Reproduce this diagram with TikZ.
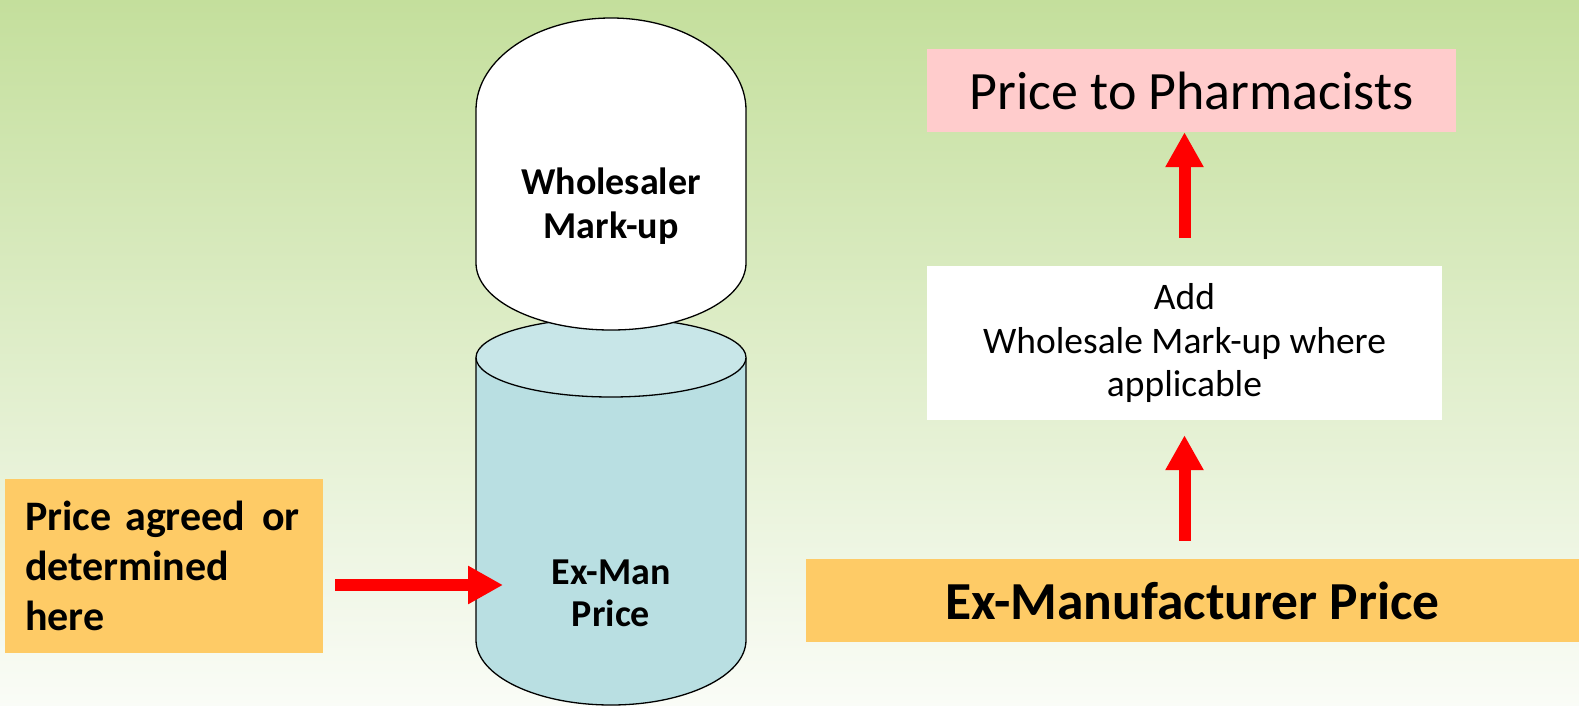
\documentclass[tikz,border=0pt]{standalone}
\usepackage{fontspec}
\setmainfont{Carlito}
\usetikzlibrary{arrows.meta,calc}
\definecolor{bgtop}{HTML}{C4DF9C}
\definecolor{bgbot}{HTML}{FAFCF7}
\definecolor{orng}{HTML}{FECB66}
\definecolor{pinkc}{HTML}{FFCCCC}
\definecolor{cylbody}{HTML}{B9DFE2}
\definecolor{cyltop}{HTML}{C8E6E8}
\tikzset{
 box/.style={draw=none, inner sep=0pt, align=center},
 redarrow/.style={draw=red, line width=12pt, -{Triangle[length=35pt,width=36pt]}},
 outl/.style={draw=black, line width=1.3pt},
}
\begin{document}
\begin{tikzpicture}[x=1pt,y=-1pt]
\useasboundingbox (0,0) rectangle (1579,706);
\shade[top color=bgtop, bottom color=bgbot] (0,0) rectangle (1579,706);

% cylinder (Ex-Man Price)
\fill[cylbody] (476,357.5) -- (476,640) arc[start angle=180,end angle=0,x radius=135,y radius=65] -- (746,357.5) -- cycle;
\draw[outl] (476,357.5) -- (476,640) arc[start angle=180,end angle=0,x radius=135,y radius=65] -- (746,357.5);
\draw[outl, fill=cyltop] (611,357.5) ellipse [x radius=135, y radius=39.5];

% wholesaler dome
\draw[outl, fill=white] (476,110) arc[start angle=180,end angle=360,x radius=135,y radius=92] -- (746,263) arc[start angle=0,end angle=180,x radius=135,y radius=67] -- cycle;

\node[box, font=\bfseries\fontsize{38}{44}\selectfont] (whl) at (611,206) {Wholesaler\\Mark-up};
\node[box, font=\bfseries\fontsize{38}{42}\selectfont] (exman) at (611,593) {Ex-Man\\Price};
\coordinate (cyltarget) at (503,585);

\node[box, fill=orng, minimum width=318pt, minimum height=174pt, text width=278pt, align=left, font=\bfseries\fontsize{42}{50}\selectfont] (lbox) at (164,566) {\mbox{Price agreed\hspace{17pt}or}\\determined\\here};
\draw[redarrow] ($(lbox.east)+(12,19)$) -- (cyltarget);

\node[box, fill=pinkc, minimum width=529pt, minimum height=83pt, font=\fontsize{54}{62}\selectfont] (pink) at (1191.5,90.5) {Price to Pharmacists};
\node[box, fill=white, minimum width=515pt, minimum height=154pt, font=\fontsize{37.5}{43.5}\selectfont] (white) at (1184.5,343) {Add\\Wholesale Mark-up where\\applicable};
\node[box, fill=orng, minimum width=773pt, minimum height=83pt, font=\bfseries\fontsize{53.5}{60}\selectfont] (exm) at (1192.5,600.5) {Ex-Manufacturer Price};

\draw[redarrow] ($(white.north)+(0,-28)$) -- (white.north |- pink.south);
\draw[redarrow] ($(white.south |- exm.north)+(0,-18)$) -- ($(white.south)+(0,15)$);
\end{tikzpicture}
\end{document}
